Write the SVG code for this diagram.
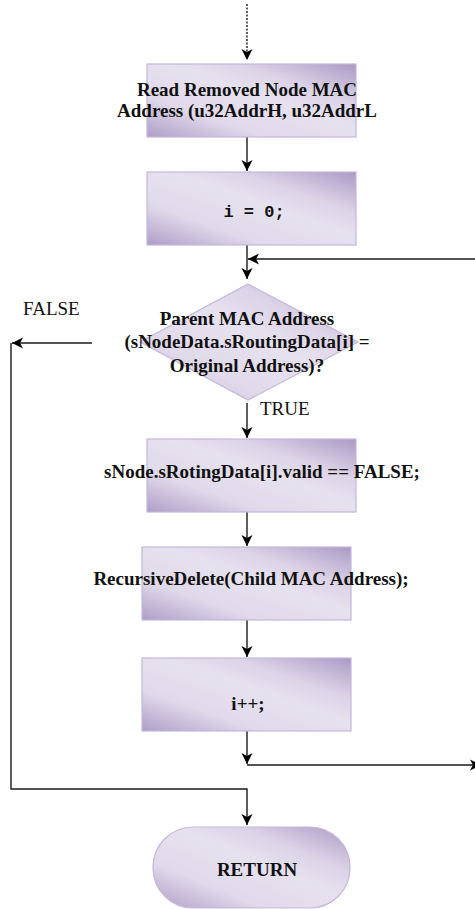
<svg xmlns="http://www.w3.org/2000/svg" width="475" height="909" viewBox="0 0 475 909">
<style>
.b{font-family:"Liberation Serif","Times New Roman",serif;font-weight:bold;font-size:19px;fill:#111;text-anchor:middle}
.r{font-family:"Liberation Serif","Times New Roman",serif;font-size:19px;fill:#111}
.m{font-family:"Liberation Mono","Courier New",monospace;font-weight:bold;font-size:17px;fill:#111;text-anchor:middle}
.n{fill:url(#g);stroke:#c4b7da;stroke-width:1.2}
.c{fill:none;stroke:#1a1a1a;stroke-width:1.4}
</style>
<defs>
<linearGradient id="g" x1="0" y1="1" x2="1" y2="0">
<stop offset="0" stop-color="#ae9dc7"/>
<stop offset="0.28" stop-color="#e0d9ea"/>
<stop offset="0.55" stop-color="#e6e1ef"/>
<stop offset="0.72" stop-color="#dcd3e7"/>
<stop offset="1" stop-color="#ab99c5"/>
</linearGradient>
<marker id="a" markerUnits="userSpaceOnUse" markerWidth="12" markerHeight="12" refX="11" refY="6" orient="auto">
<path d="M0,0.5 L11,6 L0,11.5 L3,6 Z" fill="#000"/>
</marker>
</defs>
<g id="connectors">
<line class="c" x1="247" y1="4" x2="247" y2="60" stroke-dasharray="2,1.5" marker-end="url(#a)"/>
<line class="c" x1="247" y1="137" x2="247" y2="171" marker-end="url(#a)"/>
<line class="c" x1="247" y1="245" x2="247" y2="279" marker-end="url(#a)"/>
<line class="c" x1="475" y1="259" x2="248" y2="259" marker-end="url(#a)"/>
<line class="c" x1="92" y1="343" x2="12" y2="343" marker-end="url(#a)"/>
<polyline class="c" points="11,343 11,789 247,789 247,825" marker-end="url(#a)"/>
<line class="c" x1="247" y1="403" x2="247" y2="438" marker-end="url(#a)"/>
<line class="c" x1="247" y1="512" x2="247" y2="546" marker-end="url(#a)"/>
<line class="c" x1="247" y1="620" x2="247" y2="657" marker-end="url(#a)"/>
<line class="c" x1="247" y1="731" x2="247" y2="764" marker-end="url(#a)"/>
<line class="c" x1="247" y1="765" x2="481" y2="765" stroke="#444" marker-end="url(#a)"/>
<text class="r" x="23" y="315">FALSE</text>
<text class="r" x="260" y="415">TRUE</text>
</g>
<g id="n1">
<rect class="n" x="147" y="64" width="209" height="73"/>
<text class="b" x="247" y="96">Read Removed Node MAC</text>
<text class="b" x="247" y="117">Address (u32AddrH, u32AddrL</text>
</g>
<g id="n2">
<rect class="n" x="147" y="172" width="209" height="73"/>
<text class="m" x="254" y="217">i = 0;</text>
</g>
<g id="n3">
<polygon class="n" points="248,284 358,342 248,400 140,342"/>
<text class="b" x="247" y="325">Parent MAC Address</text>
<text class="b" x="247" y="348">(sNodeData.sRoutingData[i] =</text>
<text class="b" x="247" y="372">Original Address)?</text>
</g>
<g id="n4">
<rect class="n" x="147" y="439" width="209" height="73"/>
<text class="b" x="262" y="478">sNode.sRotingData[i].valid == FALSE;</text>
</g>
<g id="n5">
<rect class="n" x="142" y="547" width="209" height="73"/>
<text class="b" x="251" y="585">RecursiveDelete(Child MAC Address);</text>
</g>
<g id="n6">
<rect class="n" x="142" y="658" width="209" height="73"/>
<text class="b" x="248" y="710">i++;</text>
</g>
<g id="n7">
<rect class="n" x="153" y="827" width="197" height="81" rx="40" ry="40"/>
<text class="b" x="257" y="876">RETURN</text>
</g>
</svg>
